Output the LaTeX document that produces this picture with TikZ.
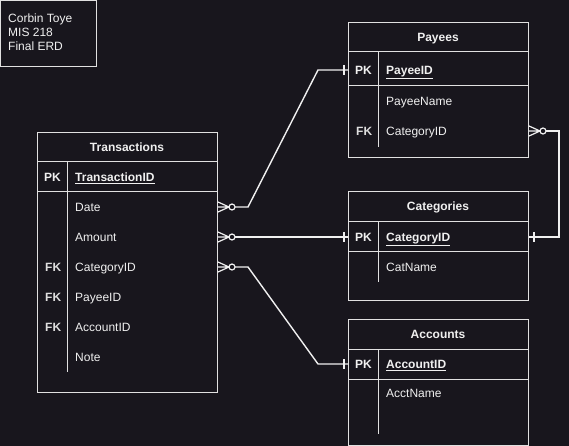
\documentclass[tikz,border=0pt]{standalone}
\usepackage{fontspec}
\setmainfont{Liberation Sans}
\usetikzlibrary{calc}
\definecolor{bg}{RGB}{24,22,29}
\definecolor{fg}{RGB}{240,240,240}
\definecolor{ln}{RGB}{225,225,225}
\tikzset{
  tbl/.style={draw=ln, line width=1pt, anchor=north west, inner sep=0pt},
  sep/.style={draw=ln, line width=1pt},
  hdr/.style={text=fg, font=\fontsize{12}{14}\selectfont\bfseries, inner sep=0pt, text height=8.6pt, text depth=0pt},
  keyc/.style={text=fg, font=\fontsize{12}{14}\selectfont\bfseries, inner sep=0pt, anchor=west, text height=8.6pt, text depth=0pt},
  fkc/.style={text=fg!92!bg, font=\fontsize{12}{14}\selectfont\bfseries, inner sep=0pt, anchor=west, text height=8.6pt, text depth=0pt},
  fld/.style={text=fg, font=\fontsize{12}{14}\selectfont, inner sep=0pt, anchor=west, text height=8.6pt, text depth=0pt},
  pkf/.style={text=fg, font=\fontsize{12}{14}\selectfont\bfseries, inner sep=0pt, anchor=west, text height=8.6pt, text depth=0pt},
  conn/.style={draw=fg, line width=1.4pt},
  crowzero/.pic={\draw[fg, line width=1.2pt] (0,-5)--(11,0) (0,0)--(11,0) (0,5)--(11,0);
                 \draw[fg, line width=1.2pt] (14,0) circle (3pt);},
  onebar/.pic={\draw[fg, line width=1.4pt] (0,-5)--(0,5);}
}
\begin{document}
\begin{tikzpicture}[x=1pt,y=-1pt]
\fill[bg] (0,0) rectangle (569,446);
\useasboundingbox (0,0) rectangle (569,446);

% label box
\node[tbl, minimum width=96pt, minimum height=66pt] (lbl) at (0,0) {};
\node[anchor=north west, inner sep=0pt, text=fg, font=\fontsize{12}{14.3}\selectfont, align=left] (lbltxt) at (8,13.5) {Corbin Toye\\MIS 218\\Final ERD};

% Transactions
\node[tbl, minimum width=180pt, minimum height=260pt] (trans) at (37,132) {};
\node[hdr] (transH) at (127,147) {Transactions};
\draw[sep] (37,162)--(217,162);
\draw[sep] (37,192)--(217,192);
\draw[sep] (67,162)--(67,372);
\node[keyc] (tPKk) at (44,177) {PK};
\node[pkf] (tPK) at (75,177) {\underline{TransactionID}};
\node[fld] (tDate) at (75,207) {Date};
\node[fld] (tAmt) at (75,237) {Amount};
\node[fkc] (tFK1) at (45,267) {FK};
\node[fld] (tCat) at (75,267) {CategoryID};
\node[fkc] (tFK2) at (45,297) {FK};
\node[fld] (tPay) at (75,297) {PayeeID};
\node[fkc] (tFK3) at (45,327) {FK};
\node[fld] (tAcc) at (75,327) {AccountID};
\node[fld] (tNote) at (75,357) {Note};

% Payees
\node[tbl, minimum width=180pt, minimum height=135pt] (pay) at (348,22) {};
\node[hdr] (payH) at (438,37) {Payees};
\draw[sep] (348,52)--(528,52);
\draw[sep] (348,86)--(528,86);
\draw[sep] (378,52)--(378,147);
\node[keyc] (pPKk) at (355,70) {PK};
\node[pkf] (pPK) at (386,70) {\underline{PayeeID}};
\node[fld] (pName) at (386,101) {PayeeName};
\node[fkc] (pFKk) at (356,131) {FK};
\node[fld] (pCat) at (386,131) {CategoryID};

% Categories
\node[tbl, minimum width=180pt, minimum height=109pt] (cat) at (348,191) {};
\node[hdr] (catH) at (438,206) {Categories};
\draw[sep] (348,221)--(528,221);
\draw[sep] (348,251)--(528,251);
\draw[sep] (378,221)--(378,282);
\node[keyc] (cPKk) at (355,237) {PK};
\node[pkf] (cPK) at (386,237) {\underline{CategoryID}};
\node[fld] (cName) at (386,267) {CatName};

% Accounts
\node[tbl, minimum width=180pt, minimum height=126pt] (acc) at (348,319) {};
\node[hdr] (accH) at (438,334) {Accounts};
\draw[sep] (348,349)--(528,349);
\draw[sep] (348,379)--(528,379);
\draw[sep] (378,349)--(378,434);
\node[keyc] (aPKk) at (355,364) {PK};
\node[pkf] (aPK) at (386,364) {\underline{AccountID}};
\node[fld] (aName) at (386,393) {AcctName};

% edge coordinates
\coordinate (eDate) at (trans.east |- tDate);
\coordinate (eAmt) at (trans.east |- tAmt);
\coordinate (eCat) at (trans.east |- tCat);
\coordinate (ePayPK) at (pay.west |- pPK);
\coordinate (ePayCat) at (pay.east |- pCat);
\coordinate (eCatPKw) at (cat.west |- cPK);
\coordinate (eCatPKe) at (cat.east |- cPK);
\coordinate (eAccPK) at (acc.west |- aPK);

% connectors
\draw[conn] ($(eDate)+(17,0)$) -- ($(eDate)+(30,0)$) -- ($(ePayPK)+(-30,0)$) -- (ePayPK);
\pic at (eDate) {crowzero};
\pic at ($(ePayPK)+(-4,0)$) {onebar};

\draw[conn] ($(eAmt)+(17,0)$) -- (eCatPKw);
\pic at (eAmt) {crowzero};
\pic at ($(eCatPKw)+(-4,0)$) {onebar};

\draw[conn] ($(eCat)+(17,0)$) -- ($(eCat)+(30,0)$) -- ($(eAccPK)+(-30,0)$) -- (eAccPK);
\pic at (eCat) {crowzero};
\pic at ($(eAccPK)+(-4,0)$) {onebar};

\draw[conn] ($(ePayCat)+(17,0)$) -- ($(ePayCat)+(30,0)$) -- ($(eCatPKe)+(30,0)$) -- (eCatPKe);
\pic at (ePayCat) {crowzero};
\pic at ($(eCatPKe)+(5,0)$) {onebar};
\end{tikzpicture}
\end{document}
